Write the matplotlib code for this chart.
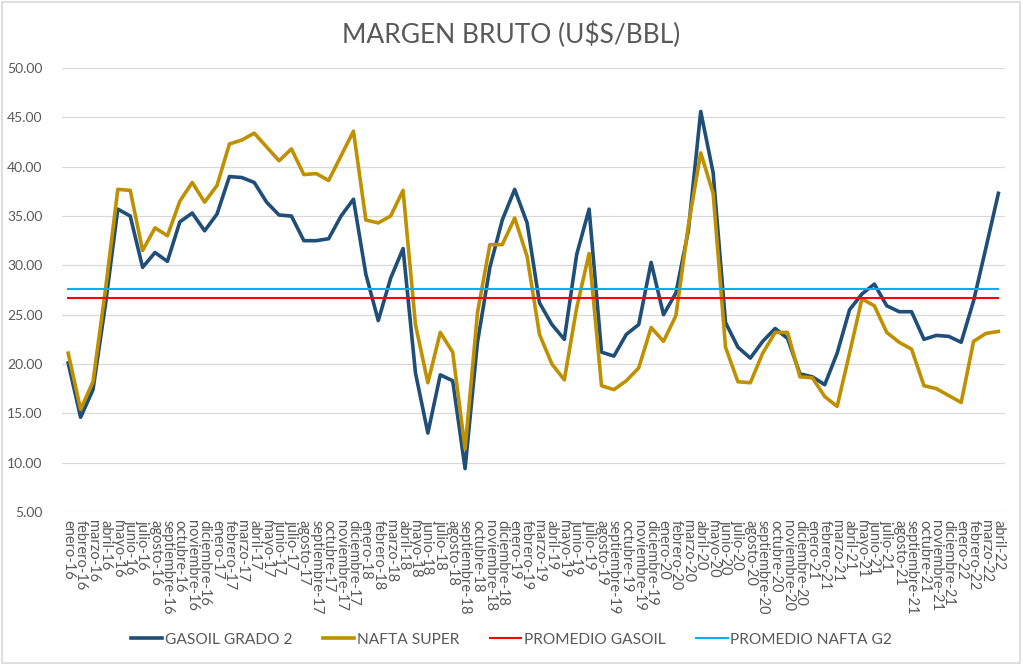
import matplotlib
matplotlib.use("Agg")
import matplotlib.pyplot as plt
from matplotlib.patches import Rectangle
import numpy as np

meses = ["enero", "febrero", "marzo", "abril", "mayo", "junio", "julio", "agosto",
         "septiembre", "octubre", "noviembre", "diciembre"]
labels = [f"{m}-{y}" for y in range(16, 23) for m in meses][:76]

gasoil = [20.1, 14.6, 17.4, 26.0, 35.7, 35.0, 29.8, 31.3, 30.4, 34.4, 35.3, 33.5,
          35.2, 39.0, 38.9, 38.4, 36.4, 35.1, 35.0, 32.5, 32.5, 32.7, 35.0, 36.7,
          29.1, 24.4, 28.7, 31.7, 19.1, 13.0, 18.9, 18.3, 9.4, 22.2, 29.8, 34.6,
          37.7, 34.3, 26.2, 24.0, 22.5, 31.1, 35.7, 21.2, 20.8, 23.0, 24.0, 30.3,
          25.0, 27.2, 33.5, 45.6, 39.4, 24.2, 21.7, 20.6, 22.3, 23.6, 22.6, 19.0,
          18.7, 17.9, 21.1, 25.5, 27.1, 28.1, 25.9, 25.3, 25.3, 22.5, 22.9, 22.8,
          22.2, 26.4, 31.8, 37.3]
nafta = [21.1, 15.4, 18.2, 27.5, 37.7, 37.6, 31.5, 33.8, 33.0, 36.5, 38.4, 36.4,
         38.1, 42.3, 42.7, 43.4, 42.0, 40.6, 41.8, 39.2, 39.3, 38.6, 41.1, 43.6,
         34.6, 34.3, 35.0, 37.6, 24.0, 18.1, 23.2, 21.2, 11.4, 25.2, 32.1, 32.1,
         34.8, 30.9, 23.0, 20.0, 18.4, 25.7, 31.2, 17.8, 17.4, 18.3, 19.6, 23.7,
         22.3, 24.9, 34.0, 41.4, 37.3, 21.7, 18.2, 18.1, 21.1, 23.2, 23.2, 18.7,
         18.6, 16.7, 15.7, 21.1, 26.6, 25.9, 23.2, 22.2, 21.5, 17.8, 17.5, 16.8,
         16.1, 22.3, 23.1, 23.3]
promedio_gasoil = 26.64
promedio_nafta = 27.65

plt.rcParams['font.family'] = ['Lato', 'DejaVu Sans']
gray = "#595959"

fig = plt.figure(figsize=(10.23, 6.65), dpi=100)
ax = fig.add_axes([0.0606, 0.2301, 0.9214, 0.6676])

x = np.arange(len(labels))
ax.plot(x, gasoil, color="#1F4E79", lw=2.6, label="GASOIL GRADO 2", solid_joinstyle="round")
ax.plot(x, nafta, color="#BF9000", lw=2.6, label="NAFTA SUPER", solid_joinstyle="round")
ax.plot(x, [promedio_gasoil] * len(x), color="#FF0000", lw=1.5, label="PROMEDIO GASOIL")
ax.plot(x, [promedio_nafta] * len(x), color="#00B0F0", lw=1.5, label="PROMEDIO NAFTA G2")

ax.set_xlim(-0.5, len(labels) - 0.5)
ax.set_ylim(5, 50)
ax.set_yticks(np.arange(5, 50.1, 5))
ax.set_yticklabels([f"{v:.2f}" for v in np.arange(5, 50.1, 5)], fontsize=10, color=gray)
ax.set_xticks(x)
ax.set_xticklabels(labels, rotation=-90, fontsize=10.5, color=gray, va="top", ha="center")
ax.tick_params(axis="y", length=0, pad=14)
ax.tick_params(axis="x", length=0, pad=6)
ax.grid(axis="y", color="#D9D9D9", lw=0.9)
ax.set_axisbelow(True)
for s in ax.spines.values():
    s.set_visible(False)

fig.suptitle("MARGEN BRUTO (U$S/BBL)", y=0.968, fontsize=19, color=gray)

leg = fig.legend(loc="center", bbox_to_anchor=(0.5, 0.038), ncol=4, frameon=False,
                 fontsize=11.2, handlelength=2.0, columnspacing=2.0, handletextpad=0.15)
for t in leg.get_texts():
    t.set_color(gray)

fig.patches.append(Rectangle((0.002, 0.003), 0.995, 0.994, transform=fig.transFigure,
                             fill=False, edgecolor="#D9D9D9", lw=1.2))

fig.savefig("out.png", dpi=100)
